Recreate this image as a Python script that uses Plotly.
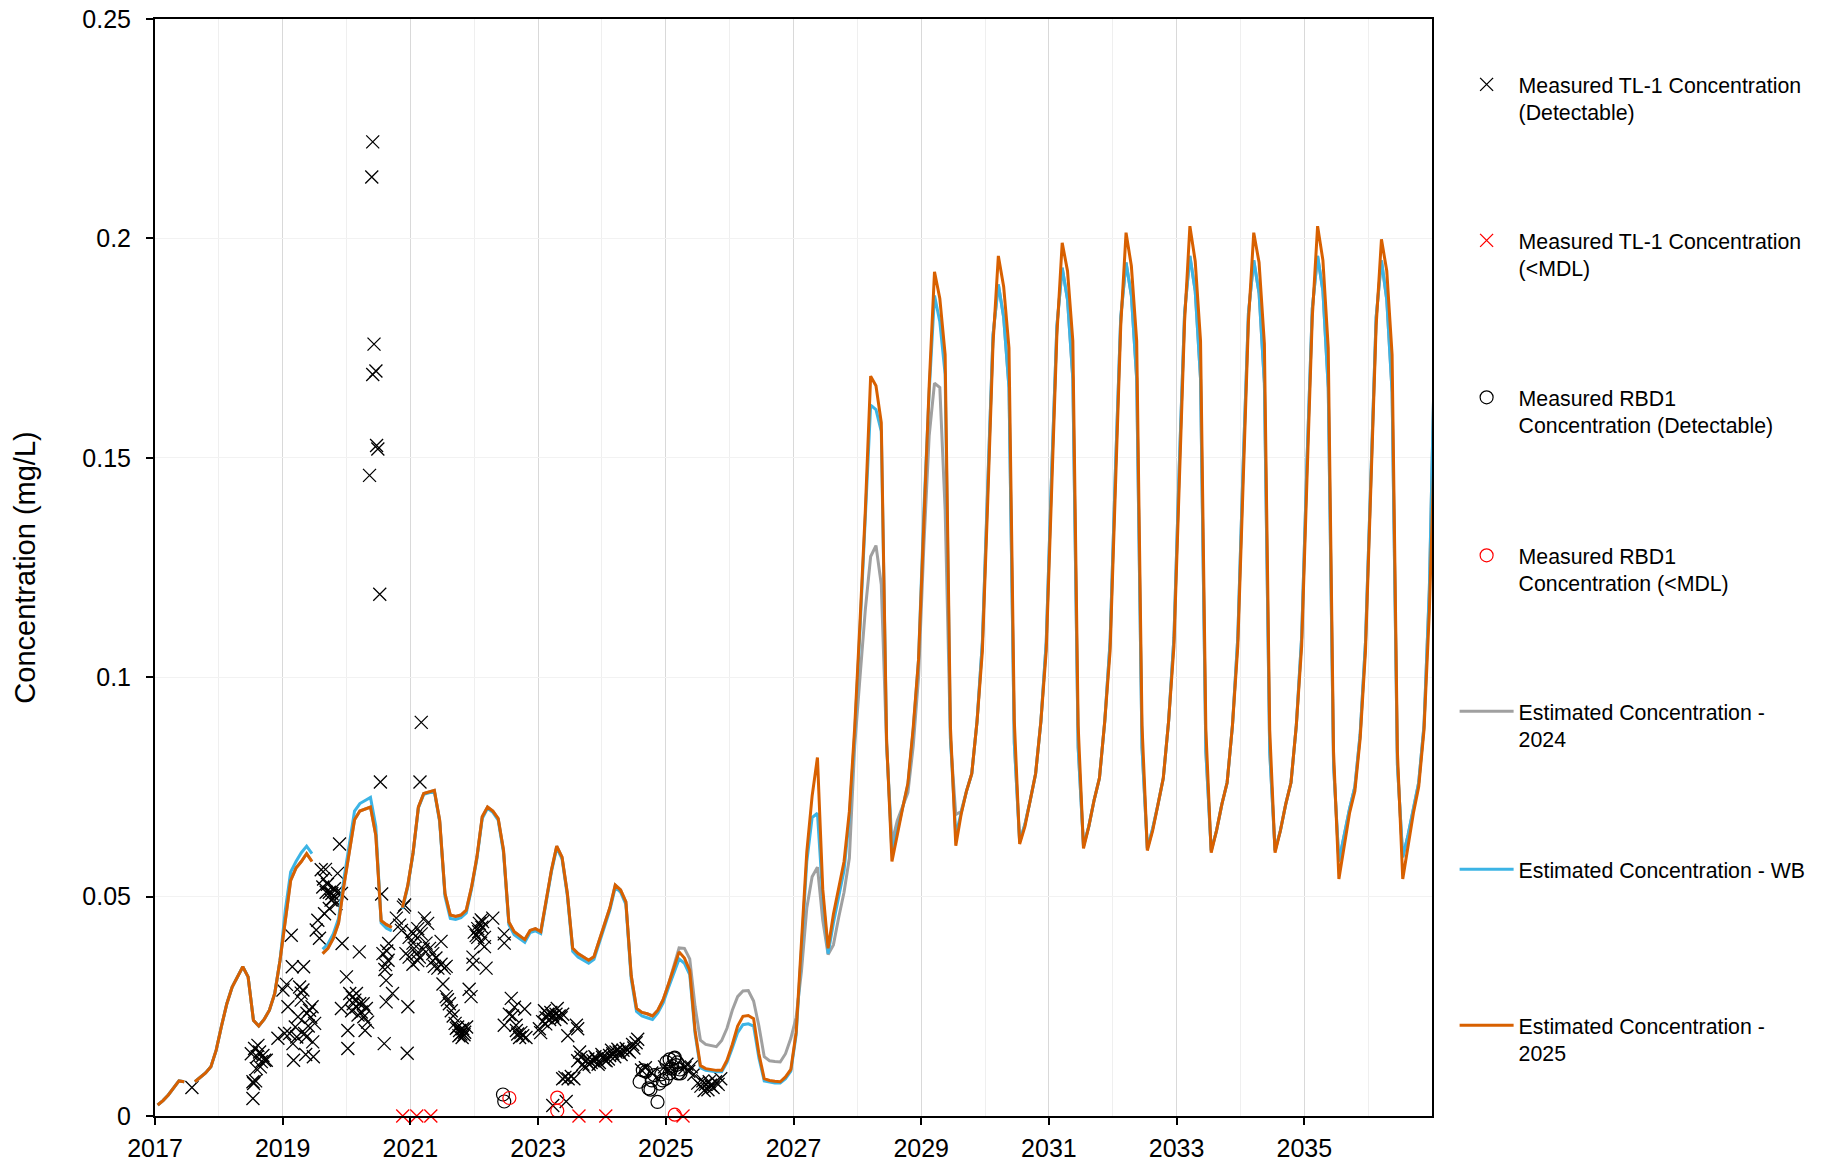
import plotly.graph_objects as go

# ---------------- DATA ----------------
start_year = 2017
# monthly estimated concentrations (mg/L), Jan 2017 ... Jan 2037 (None = gap)
est_2025 = [
    0.0025, 0.0035, 0.0048, 0.0065, 0.0080, 0.0078, None, 0.0078, 0.0088, 0.0098, 0.0112, 0.0150,
    0.0205, 0.0256, 0.0294, 0.0318, 0.0340, 0.0317, 0.0218, 0.0205, 0.0220, 0.0241, 0.0279, 0.0355,
    0.0450, 0.0537, 0.0565, 0.0580, 0.0598, 0.0580, None, 0.0370, 0.0382, 0.0405, 0.0440, 0.0525,
    0.0600, 0.0675, 0.0695, 0.0700, 0.0704, 0.0640, 0.0445, 0.0436, 0.0430, None, 0.0475, 0.0525,
    0.0600, 0.0704, 0.0735, 0.0738, 0.0742, 0.0674, 0.0507, 0.0458, 0.0455, 0.0458, 0.0469, 0.0522,
    0.0590, 0.0682, 0.0704, 0.0695, 0.0678, 0.0606, 0.0442, 0.0420, 0.0410, 0.0402, 0.0423, 0.0427,
    0.0420, 0.0492, 0.0560, 0.0615, 0.0590, 0.0507, 0.0382, 0.0370, 0.0362, 0.0355, 0.0363, 0.0400,
    0.0440, 0.0475, 0.0526, 0.0515, 0.0488, 0.0320, 0.0245, 0.0236, 0.0233, 0.0228, 0.0241, 0.0265,
    0.0300, 0.0335, 0.0374, 0.0360, 0.0332, 0.0195, 0.0115, 0.0108, 0.0106, 0.0104, 0.0104, 0.0127,
    0.0163, 0.0205, 0.0227, 0.0229, 0.0222, 0.0142, 0.0085, 0.0081, 0.0079, 0.0078, 0.0089, 0.0106,
    0.0191, 0.0390, 0.0602, 0.0729, 0.0817, 0.0517, 0.0382, 0.0460, 0.0524, 0.0580, 0.0694, 0.0885,
    0.1126, 0.1380, 0.1686, 0.1664, 0.1580, 0.0857, 0.0580, 0.0644, 0.0701, 0.0758, 0.0885, 0.1040,
    0.1367, 0.1664, 0.1924, 0.1863, 0.1735, 0.0885, 0.0616, 0.0687, 0.0740, 0.0780, 0.0900, 0.1060,
    0.1400, 0.1760, 0.1960, 0.1890, 0.1750, 0.0900, 0.0620, 0.0660, 0.0720, 0.0780, 0.0900, 0.1060,
    0.1420, 0.1780, 0.1990, 0.1926, 0.1766, 0.0890, 0.0610, 0.0660, 0.0720, 0.0770, 0.0900, 0.1060,
    0.1430, 0.1800, 0.2013, 0.1937, 0.1766, 0.0890, 0.0605, 0.0650, 0.0710, 0.0770, 0.0900, 0.1070,
    0.1440, 0.1810, 0.2028, 0.1948, 0.1766, 0.0880, 0.0600, 0.0650, 0.0710, 0.0760, 0.0890, 0.1070,
    0.1440, 0.1810, 0.2013, 0.1945, 0.1760, 0.0880, 0.0600, 0.0650, 0.0710, 0.0760, 0.0890, 0.1070,
    0.1450, 0.1820, 0.2028, 0.1950, 0.1750, 0.0830, 0.0540, 0.0620, 0.0690, 0.0740, 0.0860, 0.1060,
    0.1430, 0.1800, 0.1998, 0.1926, 0.1735, 0.0830, 0.0540, 0.0620, 0.0690, 0.0750, 0.0880, 0.1150,
    0.1550,
]

est_wb = [
    0.0025, 0.0035, 0.0048, 0.0065, 0.0080, 0.0078, None, 0.0078, 0.0088, 0.0098, 0.0112, 0.0150,
    0.0205, 0.0256, 0.0294, 0.0318, 0.0340, 0.0317, 0.0218, 0.0205, 0.0220, 0.0241, 0.0279, 0.0355,
    0.0470, 0.0556, 0.0580, 0.0600, 0.0615, 0.0598, None, 0.0380, 0.0392, 0.0415, 0.0450, 0.0540,
    0.0620, 0.0695, 0.0712, 0.0720, 0.0726, 0.0660, 0.0440, 0.0428, 0.0422, None, 0.0472, 0.0522,
    0.0598, 0.0702, 0.0733, 0.0736, 0.0740, 0.0670, 0.0500, 0.0450, 0.0448, 0.0452, 0.0463, 0.0518,
    0.0586, 0.0678, 0.0701, 0.0692, 0.0674, 0.0600, 0.0436, 0.0413, 0.0404, 0.0396, 0.0418, 0.0422,
    0.0416, 0.0488, 0.0556, 0.0611, 0.0586, 0.0502, 0.0375, 0.0362, 0.0354, 0.0348, 0.0357, 0.0394,
    0.0434, 0.0470, 0.0521, 0.0510, 0.0482, 0.0312, 0.0238, 0.0228, 0.0224, 0.0220, 0.0235, 0.0258,
    0.0292, 0.0325, 0.0358, 0.0348, 0.0322, 0.0188, 0.0110, 0.0104, 0.0102, 0.0101, 0.0101, 0.0122,
    0.0155, 0.0190, 0.0208, 0.0210, 0.0205, 0.0132, 0.0080, 0.0077, 0.0075, 0.0075, 0.0085, 0.0102,
    0.0185, 0.0380, 0.0580, 0.0680, 0.0690, 0.0500, 0.0370, 0.0440, 0.0500, 0.0560, 0.0680, 0.0870,
    0.1110, 0.1370, 0.1620, 0.1610, 0.1560, 0.0850, 0.0600, 0.0650, 0.0700, 0.0755, 0.0880, 0.1040,
    0.1380, 0.1650, 0.1870, 0.1810, 0.1690, 0.0860, 0.0640, 0.0690, 0.0740, 0.0780, 0.0900, 0.1080,
    0.1440, 0.1780, 0.1895, 0.1820, 0.1660, 0.0850, 0.0625, 0.0665, 0.0720, 0.0780, 0.0900, 0.1080,
    0.1460, 0.1800, 0.1933, 0.1860, 0.1680, 0.0840, 0.0615, 0.0660, 0.0720, 0.0770, 0.0900, 0.1080,
    0.1470, 0.1820, 0.1945, 0.1870, 0.1680, 0.0840, 0.0610, 0.0655, 0.0710, 0.0770, 0.0900, 0.1090,
    0.1480, 0.1830, 0.1960, 0.1880, 0.1680, 0.0830, 0.0605, 0.0650, 0.0710, 0.0760, 0.0890, 0.1090,
    0.1480, 0.1830, 0.1950, 0.1875, 0.1670, 0.0830, 0.0605, 0.0650, 0.0710, 0.0760, 0.0890, 0.1090,
    0.1490, 0.1840, 0.1960, 0.1880, 0.1660, 0.0800, 0.0580, 0.0640, 0.0700, 0.0750, 0.0870, 0.1080,
    0.1470, 0.1820, 0.1950, 0.1860, 0.1650, 0.0800, 0.0590, 0.0640, 0.0700, 0.0760, 0.0890, 0.1200,
    0.1750,
]

est_2024 = [
    0.0025, 0.0035, 0.0048, 0.0065, 0.0080, 0.0078, None, 0.0078, 0.0088, 0.0098, 0.0112, 0.0150,
    0.0205, 0.0256, 0.0294, 0.0318, 0.0340, 0.0317, 0.0218, 0.0205, 0.0220, 0.0241, 0.0279, 0.0355,
    0.0450, 0.0537, 0.0565, 0.0580, 0.0598, 0.0580, None, 0.0370, 0.0382, 0.0405, 0.0440, 0.0525,
    0.0600, 0.0675, 0.0695, 0.0700, 0.0704, 0.0640, 0.0445, 0.0436, 0.0430, None, 0.0475, 0.0525,
    0.0600, 0.0704, 0.0735, 0.0738, 0.0742, 0.0674, 0.0507, 0.0458, 0.0455, 0.0458, 0.0469, 0.0522,
    0.0590, 0.0682, 0.0704, 0.0695, 0.0678, 0.0606, 0.0442, 0.0420, 0.0410, 0.0402, 0.0423, 0.0427,
    0.0420, 0.0492, 0.0560, 0.0615, 0.0590, 0.0507, 0.0382, 0.0370, 0.0362, 0.0355, 0.0363, 0.0400,
    0.0440, 0.0475, 0.0526, 0.0515, 0.0488, 0.0320, 0.0245, 0.0236, 0.0233, 0.0228, 0.0241, 0.0265,
    0.0300, 0.0340, 0.0383, 0.0382, 0.0358, 0.0250, 0.0173, 0.0163, 0.0160, 0.0158, 0.0172, 0.0200,
    0.0241, 0.0272, 0.0285, 0.0286, 0.0262, 0.0205, 0.0135, 0.0126, 0.0124, 0.0123, 0.0142, 0.0177,
    0.0225, 0.0330, 0.0474, 0.0545, 0.0567, 0.0446, 0.0368, 0.0390, 0.0453, 0.0510, 0.0588, 0.0843,
    0.1000, 0.1154, 0.1275, 0.1300, 0.1211, 0.0843, 0.0623, 0.0673, 0.0705, 0.0737, 0.0843, 0.1000,
    0.1300, 0.1550, 0.1670, 0.1660, 0.1380, 0.0857, 0.0687, 0.0694, 0.0740, 0.0780, 0.0900, 0.1080,
    0.1440, 0.1780, 0.1895, 0.1820, 0.1660, 0.0850, 0.0625, 0.0665, 0.0720, 0.0780, 0.0900, 0.1080,
    0.1460, 0.1800, 0.1933, 0.1860, 0.1680, 0.0840, 0.0615, 0.0660, 0.0720, 0.0770, 0.0900, 0.1080,
    0.1470, 0.1820, 0.1945, 0.1870, 0.1680, 0.0840, 0.0610, 0.0655, 0.0710, 0.0770, 0.0900, 0.1090,
    0.1480, 0.1830, 0.1960, 0.1880, 0.1680, 0.0830, 0.0605, 0.0650, 0.0710, 0.0760, 0.0890, 0.1090,
    0.1480, 0.1830, 0.1950, 0.1875, 0.1670, 0.0830, 0.0605, 0.0650, 0.0710, 0.0760, 0.0890, 0.1090,
    0.1490, 0.1840, 0.1960, 0.1880, 0.1660, 0.0800, 0.0580, 0.0640, 0.0700, 0.0750, 0.0870, 0.1080,
    0.1470, 0.1820, 0.1950, 0.1860, 0.1650, 0.0800, 0.0590, 0.0640, 0.0700, 0.0760, 0.0890, 0.1200,
    0.1750,
]

# Measured TL-1 (detectable): decimal year, mg/L
tl1_year = [
    2017.578,
    2018.508, 2018.56, 2018.612, 2018.638, 2018.69, 2018.717, 2018.743, 2018.586, 2018.665, 2018.534,
    2018.576, 2018.545, 2018.534, 2018.60, 2018.65,
    2018.925, 2019.004, 2019.03, 2019.082, 2019.108, 2019.134, 2019.15, 2019.16, 2019.197, 2019.24,
    2019.265, 2019.29, 2019.327, 2019.17, 2019.343, 2019.38, 2019.42, 2019.46, 2019.50, 2019.48,
    2019.47, 2019.317, 2019.29, 2019.37, 2019.22, 2019.40, 2019.44, 2019.06, 2019.36,
    2019.55, 2019.525, 2019.576, 2019.603, 2019.67, 2019.628, 2019.68, 2019.73, 2019.77, 2019.81,
    2019.845, 2019.757, 2019.86, 2019.89, 2019.92, 2019.835, 2019.73, 2019.655, 2019.93, 2019.64,
    2019.70, 2019.79,
    2019.998, 2020.05, 2020.09, 2020.13, 2020.155, 2020.207, 2020.23, 2020.27, 2020.31, 2020.33,
    2020.02, 2020.02, 2019.92, 2020.20, 2020.29, 2020.155, 2020.105, 2020.26, 2020.18, 2020.08,
    2020.41, 2020.395, 2020.43, 2020.41, 2020.46, 2020.47, 2020.49, 2020.36, 2020.52, 2020.53,
    2021.17, 2021.15, 2020.55,
    2020.57, 2020.63, 2020.60, 2020.65, 2020.62, 2020.66, 2020.72, 2020.62, 2020.59, 2020.61,
    2020.96, 2020.95, 2020.91, 2020.89, 2020.78, 2020.83, 2020.86, 2020.98, 2021.04, 2021.06,
    2021.10, 2021.14, 2021.115, 2021.17, 2021.22, 2021.27, 2021.245, 2021.30, 2021.35, 2021.375,
    2021.43, 2021.48, 2021.53, 2021.56, 2021.51, 2021.48, 2021.35, 2020.93, 2020.98, 2021.04,
    2021.115, 2021.20, 2021.40, 2021.02, 2021.08,
    2021.56, 2021.61, 2021.64, 2021.67, 2021.70, 2021.74, 2021.77, 2021.79, 2021.82, 2021.85,
    2021.88, 2021.81, 2021.76, 2021.58, 2021.72, 2021.84,
    2021.92, 2021.95, 2021.98, 2021.98, 2022.00, 2022.03, 2022.055, 2022.08, 2022.11, 2022.13,
    2022.055, 2022.10, 2022.16, 2022.185, 2022.29, 2022.16, 2022.07, 2022.12,
    2022.47, 2022.47, 2022.58, 2022.55, 2022.47, 2022.60, 2022.655, 2022.68, 2022.71, 2022.76,
    2022.81, 2022.79, 2022.63, 2022.73, 2022.66,
    2023.02, 2023.07, 2023.10, 2023.125, 2023.15, 2023.18, 2023.20, 2023.23, 2023.26, 2023.28,
    2023.33, 2023.36, 2023.385, 2023.465, 2023.60, 2023.62, 2023.23, 2023.44, 2023.12, 2023.30,
    2023.04,
    2023.385, 2023.42, 2023.47, 2023.52, 2023.56, 2023.65, 2023.62, 2023.67, 2023.70, 2023.75,
    2023.80, 2023.86, 2023.91, 2023.96, 2024.01, 2024.065, 2024.12, 2024.17, 2024.22, 2024.27,
    2024.33, 2024.38, 2024.43, 2024.48, 2024.535, 2024.56, 2023.72, 2023.83, 2023.94, 2024.04,
    2024.10, 2024.20, 2024.30, 2024.40, 2024.50, 2023.78, 2023.89, 2024.00, 2024.15, 2024.25,
    2024.62, 2024.68, 2024.78, 2024.98, 2025.05, 2025.30, 2025.33, 2025.36, 2025.40, 2025.44,
    2025.50, 2025.55, 2025.58, 2025.62, 2025.66, 2025.70, 2025.74, 2025.78, 2025.82, 2025.86,
    2025.60, 2025.68,
]
tl1_conc = [
    0.0065,
    0.0142, 0.0154, 0.0161, 0.0146, 0.0138, 0.0127, 0.0127, 0.0108, 0.0124, 0.0078,
    0.0080, 0.0074, 0.0040, 0.0135, 0.0112,
    0.0177, 0.0287, 0.0188, 0.0249, 0.0188, 0.0412, 0.0340, 0.0165, 0.0203, 0.0226,
    0.0294, 0.0280, 0.0340, 0.0127, 0.0188, 0.0234, 0.0241, 0.0249, 0.0211, 0.0135,
    0.0169, 0.0287, 0.0264, 0.0180, 0.0180, 0.0205, 0.0225, 0.0300, 0.0140,
    0.0446, 0.0424, 0.0405, 0.0561, 0.0562, 0.0522, 0.0510, 0.0510, 0.0507, 0.0518,
    0.0510, 0.0492, 0.0553, 0.0620, 0.0507, 0.0484, 0.0473, 0.0461, 0.0393, 0.0540,
    0.0528, 0.0495,
    0.0317, 0.0279, 0.0271, 0.0264, 0.0249, 0.0256, 0.0237, 0.0226, 0.0245, 0.0214,
    0.0195, 0.0154, 0.0245, 0.0374, 0.0195, 0.0279, 0.0256, 0.0256, 0.0230, 0.0240,
    0.2220, 0.2140, 0.1759, 0.1690, 0.1698, 0.1528, 0.1520, 0.1460, 0.1189, 0.0761,
    0.0897, 0.0761, 0.0506,
    0.0370, 0.0376, 0.0334, 0.0355, 0.0309, 0.0393, 0.0279, 0.0260, 0.0165, 0.0345,
    0.0249, 0.0143, 0.0481, 0.0476, 0.0451, 0.0435, 0.0423, 0.0407, 0.0394, 0.0382,
    0.0370, 0.0362, 0.0427, 0.0415, 0.0451, 0.0439, 0.0394, 0.0382, 0.0370, 0.0341,
    0.0337, 0.0346, 0.0337, 0.0341, 0.0301, 0.0398, 0.0354, 0.0370, 0.0362, 0.0346,
    0.0354, 0.0380, 0.0360, 0.0420, 0.0410,
    0.0272, 0.0256, 0.0240, 0.0228, 0.0211, 0.0203, 0.0195, 0.0187, 0.0199, 0.0191,
    0.0203, 0.0179, 0.0183, 0.0265, 0.0200, 0.0185,
    0.0289, 0.0272, 0.0362, 0.0346, 0.0419, 0.0411, 0.0427, 0.0439, 0.0447, 0.0443,
    0.0407, 0.0394, 0.0386, 0.0337, 0.0451, 0.0407, 0.0420, 0.0430,
    0.0415, 0.0394, 0.0268, 0.0232, 0.0207, 0.0228, 0.0207, 0.0187, 0.0179, 0.0183,
    0.0179, 0.0244, 0.0248, 0.0190, 0.0195,
    0.0199, 0.0215, 0.0240, 0.0224, 0.0232, 0.0220, 0.0236, 0.0228, 0.0220, 0.0232,
    0.0228, 0.0224, 0.0232, 0.0183, 0.0207, 0.0199, 0.0024, 0.0033, 0.0210, 0.0245,
    0.0190,
    0.0085, 0.0088, 0.0085, 0.0090, 0.0085, 0.0146, 0.0126, 0.0134, 0.0118, 0.0126,
    0.0118, 0.0126, 0.0130, 0.0122, 0.0134, 0.0126, 0.0138, 0.0142, 0.0146, 0.0146,
    0.0150, 0.0154, 0.0146, 0.0163, 0.0167, 0.0175, 0.0112, 0.0122, 0.0118, 0.0128,
    0.0130, 0.0135, 0.0140, 0.0150, 0.0155, 0.0130, 0.0135, 0.0140, 0.0150, 0.0152,
    0.0105, 0.0110, 0.0098, 0.0112, 0.0105, 0.0110, 0.0118, 0.0102, 0.0112, 0.0095,
    0.0075, 0.0068, 0.0080, 0.0072, 0.0060, 0.0070, 0.0065, 0.0078, 0.0072, 0.0085,
    0.0058, 0.0078,
]

# Measured TL-1 (<MDL)
tl1_mdl_year = [2020.88, 2021.10, 2021.32, 2023.64, 2024.06, 2025.27]
tl1_mdl_conc = [0.0, 0.0, 0.0, 0.0, 0.0, 0.0]

# Measured RBD1 (detectable)
rbd_year = [
    2022.45, 2022.47,
    2024.59, 2024.64, 2024.69, 2024.73, 2024.76, 2024.78, 2024.82, 2024.87, 2024.90, 2024.93,
    2024.95, 2025.00, 2025.01, 2025.06, 2025.09, 2025.13, 2025.16, 2025.19, 2025.23, 2025.06,
    2025.14, 2025.10, 2025.22, 2025.18,
]
rbd_conc = [
    0.0049, 0.0033,
    0.0078, 0.0104, 0.0101, 0.0063, 0.0060, 0.0081, 0.0093, 0.0032, 0.0074, 0.0095,
    0.0081, 0.0085, 0.0123, 0.0097, 0.0108, 0.0131, 0.0116, 0.0097, 0.0097, 0.0129,
    0.0133, 0.0114, 0.0106, 0.0122,
]

# Measured RBD1 (<MDL)
rbd_mdl_year = [2022.55, 2023.30, 2023.30, 2025.14]
rbd_mdl_conc = [0.0041, 0.0042, 0.0012, 0.0003]

x_ticks = [2017, 2019, 2021, 2023, 2025, 2027, 2029, 2031, 2033, 2035]
y_ticks = [0, 0.05, 0.1, 0.15, 0.2, 0.25]
y_ticktext = ["0", "0.05", "0.1", "0.15", "0.2", "0.25"]

# ---------------- FIGURE ----------------
W, H = 1832, 1164
month_x = [start_year + (i + 0.5) / 12 for i in range(len(est_2025))]

FONT = "Liberation Sans, Arial, Helvetica, sans-serif"
fig = go.Figure()

fig.add_trace(go.Scatter(
    x=tl1_year, y=tl1_conc, mode="markers", cliponaxis=False,
    name="Measured TL-1 Concentration<br>(Detectable)", legend="legend",
    marker=dict(symbol="x-thin-open", size=13, color="black", line=dict(width=1.3, color="black")),
))
fig.add_trace(go.Scatter(
    x=tl1_mdl_year, y=tl1_mdl_conc, mode="markers", cliponaxis=False,
    name="Measured TL-1 Concentration<br>(&lt;MDL)", legend="legend2",
    marker=dict(symbol="x-thin-open", size=13, color="#ff0000", line=dict(width=1.3, color="#ff0000")),
))
fig.add_trace(go.Scatter(
    x=rbd_year, y=rbd_conc, mode="markers", cliponaxis=False,
    name="Measured RBD1<br>Concentration (Detectable)", legend="legend3",
    marker=dict(symbol="circle-open", size=13, color="black", line=dict(width=1.2, color="black")),
))
fig.add_trace(go.Scatter(
    x=rbd_mdl_year, y=rbd_mdl_conc, mode="markers", cliponaxis=False,
    name="Measured RBD1<br>Concentration (&lt;MDL)", legend="legend4",
    marker=dict(symbol="circle-open", size=13, color="#ff0000", line=dict(width=1.2, color="#ff0000")),
))
fig.add_trace(go.Scatter(
    x=month_x, y=est_2024, mode="lines", connectgaps=False,
    name="Estimated Concentration -<br>2024", legend="legend5",
    line=dict(color="#a0a0a0", width=3),
))
fig.add_trace(go.Scatter(
    x=month_x, y=est_wb, mode="lines", connectgaps=False,
    name="Estimated Concentration - WB", legend="legend6",
    line=dict(color="#3cb4e5", width=3),
))
fig.add_trace(go.Scatter(
    x=month_x, y=est_2025, mode="lines", connectgaps=False,
    name="Estimated Concentration -<br>2025", legend="legend7",
    line=dict(color="#d86000", width=3),
))

legend_tops = [64, 220, 377, 535, 691, 849, 1005]   # px from top of page


def legend_box(top):
    return dict(
        xref="container", yref="container", x=0.794, y=1 - top / H,
        xanchor="left", yanchor="top",
        font=dict(family=FONT, size=21.3, color="black"),
        itemwidth=54, valign="top", bgcolor="rgba(0,0,0,0)",
    )


layout_legends = {}
for k, top in enumerate(legend_tops):
    key = "legend" if k == 0 else f"legend{k + 1}"
    layout_legends[key] = legend_box(top)

fig.update_layout(
    width=W, height=H,
    margin=dict(l=155, r=400, t=19, b=48, autoexpand=False),
    paper_bgcolor="white", plot_bgcolor="white",
    font=dict(family=FONT, color="black", size=25),
    showlegend=True,
    **layout_legends,
)
fig.update_xaxes(
    range=[2017, 2037], tickmode="array", tickvals=x_ticks, automargin=False,
    ticks="outside", ticklen=7, tickwidth=2, tickcolor="black",
    tickfont=dict(size=25), ticklabelstandoff=2,
    showline=True, linecolor="black", linewidth=2, mirror=True,
    showgrid=True, gridcolor="#d9d9d9", gridwidth=1,
    minor=dict(tickmode="array", tickvals=list(range(2018, 2037, 2)), showgrid=True,
               gridcolor="#efefef", gridwidth=1, ticks=""),
    zeroline=False,
)
fig.update_yaxes(
    range=[0, 0.25], tickmode="array", tickvals=y_ticks, ticktext=y_ticktext, automargin=False,
    ticks="outside", ticklen=7, tickwidth=2, tickcolor="black",
    tickfont=dict(size=25), ticklabelstandoff=10,
    showline=True, linecolor="black", linewidth=2, mirror=True,
    showgrid=True, gridcolor="#f2f2f2", gridwidth=1,
    zeroline=False,
    title=dict(text="Concentration (mg/L)", font=dict(size=29), standoff=38),
)

fig.write_html("out.html")
